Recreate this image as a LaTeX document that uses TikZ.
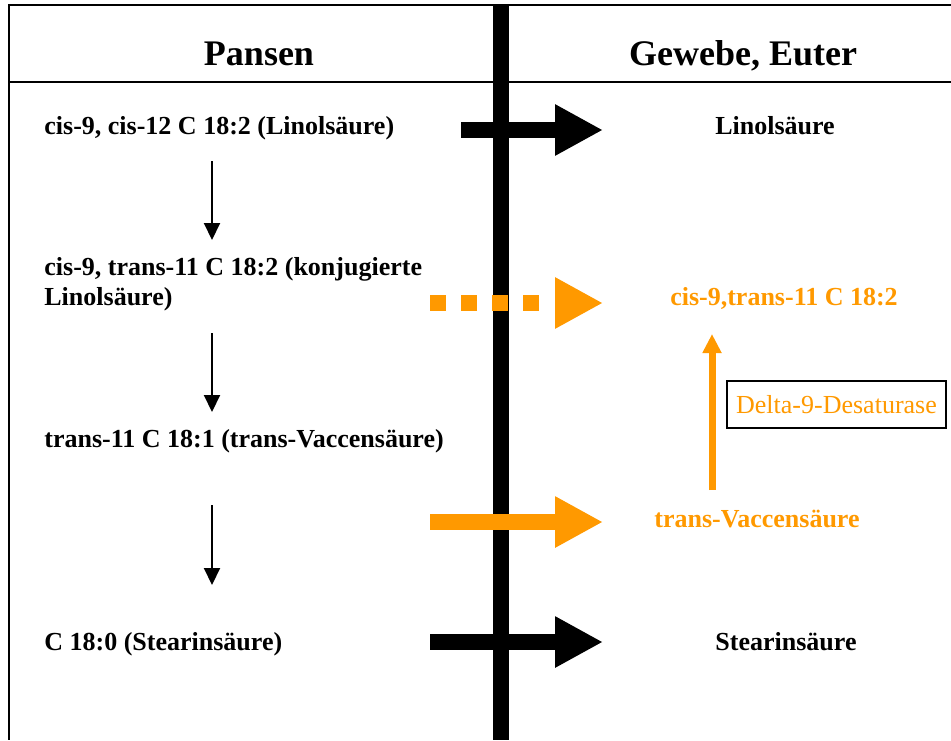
\documentclass[tikz,border=0pt]{standalone}
\usepackage{fontspec}
\setmainfont{Liberation Serif}
\usepackage{tikz}
\usetikzlibrary{arrows.meta}
\definecolor{orng}{RGB}{255,153,0}
\tikzset{t/.style={font=\fontsize{13}{15}\selectfont\bfseries, inner sep=0pt, align=left}}
\tikzset{h/.style={font=\fontsize{18}{18}\selectfont\bfseries, inner sep=0pt}}
\tikzset{big/.style={line width=8pt, -{Triangle[length=24pt,width=24pt]}}}
\tikzset{sm/.style={line width=1pt, -{Triangle[length=8.5pt,width=8pt]}}}

\begin{document}
\begin{tikzpicture}[x=0.5pt,y=-0.5pt]
            \useasboundingbox (0,0) rectangle (951,740);
            % table frame and barrier
            \draw[line width=1pt] (951,5) -- (9,5) -- (9,740);
            \draw[line width=1pt] (9,82) -- (951,82);
            \draw[line width=8pt] (501,5) -- (501,740);
            % headers
            \node[h, anchor=base] (pansen) at (259,65) {Pansen};
            \node[h, anchor=base] (gewebe) at (743,65) {Gewebe, Euter};
            % rumen side
            \node[t, anchor=base west] (linL) at (44,134) {cis-9, cis-12 C 18:2 (Linolsäure)};
            \node[t, anchor=base west] (cla) at (44,305) {cis-9, trans-11 C 18:2 (konjugierte\\Linolsäure)};
            \node[t, anchor=base west] (tva) at (44,447) {trans-11 C 18:1 (trans-Vaccensäure)};
            \node[t, anchor=base west] (stL) at (44,650) {C 18:0 (Stearinsäure)};
            % tissue side
            \node[t, anchor=base] (linR) at (775,134) {Linolsäure};
            \node[t, anchor=base, text=orng] (claR) at (784,305) {cis-9,trans-11 C 18:2};
            \node[t, anchor=base, text=orng] (tvaR) at (757,527) {trans-Vaccensäure};
            \node[t, anchor=base] (stR) at (786,650) {Stearinsäure};
            \node[draw, line width=1pt, text=orng, inner sep=0pt, minimum width=109.5pt, minimum height=23.5pt,
              font=\fontsize{13}{13}\selectfont] (desat) at (836.5,404.5) {Delta-9-Desaturase};
            % conversion steps
            \coordinate (s1) at (212,161); \coordinate (e1) at (212,240);
            \coordinate (s2) at (212,333); \coordinate (e2) at (212,412);
            \coordinate (s3) at (212,505); \coordinate (e3) at (212,585);
            \draw[sm] (s1) -- (e1);
            \draw[sm] (s2) -- (e2);
            \draw[sm] (s3) -- (e3);
            % transfer through the barrier
            \coordinate (a1) at (461,130); \coordinate (b1) at (603,130);
            \coordinate (a2) at (430,303); \coordinate (b2) at (603,303);
            \coordinate (a3) at (430,522); \coordinate (b3) at (603,522);
            \coordinate (a4) at (430,642); \coordinate (b4) at (603,642);
            \draw[big] (a1) -- (b1);
            \draw[big, orng, dash pattern=on 8pt off 7.5pt on 8pt off 7.5pt on 8pt off 7.5pt on 8pt off 100pt] (a2) -- (b2);
            \draw[big, orng] (a3) -- (b3);
            \draw[big] (a4) -- (b4);
            % desaturation
            \coordinate (u1) at (712,490); \coordinate (u2) at (712,334);
            \draw[orng, line width=3.5pt, -{Triangle[length=9.5pt,width=9pt]}] (u1) -- (u2);
\end{tikzpicture}
\end{document}
